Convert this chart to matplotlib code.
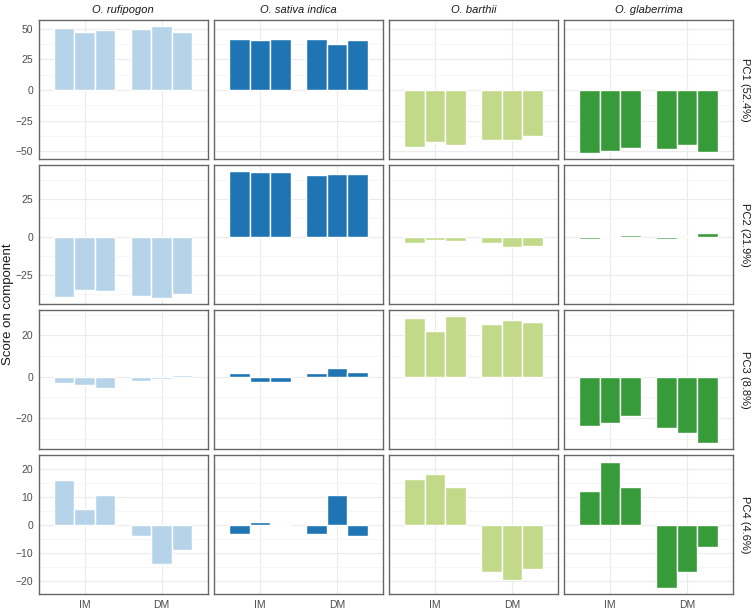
import numpy as np
import matplotlib.pyplot as plt
from matplotlib.ticker import MultipleLocator

plt.rcParams['font.family'] = ['Liberation Sans', 'DejaVu Sans']

species = ['O. rufipogon', 'O. sativa indica', 'O. barthii', 'O. glaberrima']
colors = ['#B6D4E9', '#1F75B4', '#C3D98A', '#369B38']
pcs = ['PC1 (52.4%)', 'PC2 (21.9%)', 'PC3 (8.8%)', 'PC4 (4.6%)']
groups = ['IM', 'DM']

# scores: per PC, per species, 3 IM replicates then 3 DM replicates
pc1 = [[50.5, 47.0, 48.9, 49.7, 51.9, 47.0],
       [41.3, 40.5, 41.6, 41.6, 37.8, 41.0],
       [-46.7, -42.4, -44.8, -40.5, -41.0, -37.2],
       [-51.1, -49.5, -47.3, -48.4, -45.1, -50.5]]
pc2 = [[-39.8, -35.2, -36.1, -38.9, -40.3, -37.8],
       [43.4, 42.9, 42.7, 40.9, 41.4, 41.6],
       [-4.2, -2.2, -2.9, -3.8, -6.4, -5.8],
       [-1.3, 0.1, 1.1, -1.5, 0.6, 2.4]]
pc3 = [[-3.2, -4.2, -5.3, -1.9, -1.0, 0.6],
       [1.8, -2.6, -2.6, 1.9, 4.2, 2.3],
       [28.5, 22.1, 29.2, 25.6, 27.6, 26.6],
       [-24.0, -22.3, -19.2, -25.0, -27.4, -32.1]]
pc4 = [[16.0, 5.5, 10.5, -3.9, -14.2, -9.2],
       [-3.5, 0.8, -0.4, -3.5, 10.6, -4.0],
       [16.4, 18.1, 13.3, -17.0, -19.6, -15.7],
       [12.0, 22.5, 13.5, -22.6, -16.8, -7.9]]
scores = [pc1, pc2, pc3, pc4]

major = [25, 25, 20, 10]

fig, axes = plt.subplots(4, 4, figsize=(7.54, 6.09), dpi=100, sharey='row')
fig.subplots_adjust(left=0.0511, right=0.9725, top=0.9672, bottom=0.0241,
                    wspace=0.0355, hspace=0.043)

w = 0.8 / 3
offs = np.array([-w, 0, w])
for r in range(4):
    for c in range(4):
        ax = axes[r, c]
        vals = scores[r][c]
        for g in range(2):
            ax.bar(g + 1 + offs, vals[g*3:g*3+3], width=w, color=colors[c],
                   edgecolor='white', linewidth=1.0, zorder=3)
        ax.set_xlim(0.4, 2.6)
        ax.set_xticks([1, 2])
        ax.set_xticklabels(groups if r == 3 else [])
        ax.yaxis.set_major_locator(MultipleLocator(major[r]))
        ax.yaxis.set_minor_locator(MultipleLocator(major[r] / 2))
        ax.grid(which='major', color='#ebebeb', linewidth=0.8, zorder=0)
        ax.grid(which='minor', axis='y', color='#f5f5f5', linewidth=0.6, zorder=0)
        ax.set_axisbelow(True)
        ax.tick_params(which='both', length=0, labelsize=7.5, labelcolor='#4d4d4d', pad=4)
        if c > 0:
            ax.tick_params(axis='y', labelleft=False)
        for s in ax.spines.values():
            s.set_color('#666666')
            s.set_linewidth(1.0)
        if r == 0:
            ax.set_title(species[c], fontsize=8, style='italic', color='#1a1a1a', pad=5)
        if c == 3:
            ax.text(1.04, 0.5, pcs[r], transform=ax.transAxes, rotation=270,
                    ha='left', va='center', fontsize=8, color='#1a1a1a')
    axes[r, 0].margins(y=0.05)

fig.text(0.002, 0.5, 'Score on component', rotation=90, ha='left', va='center',
         fontsize=9.5, color='#1a1a1a')

fig.savefig('out.png', dpi=100)
